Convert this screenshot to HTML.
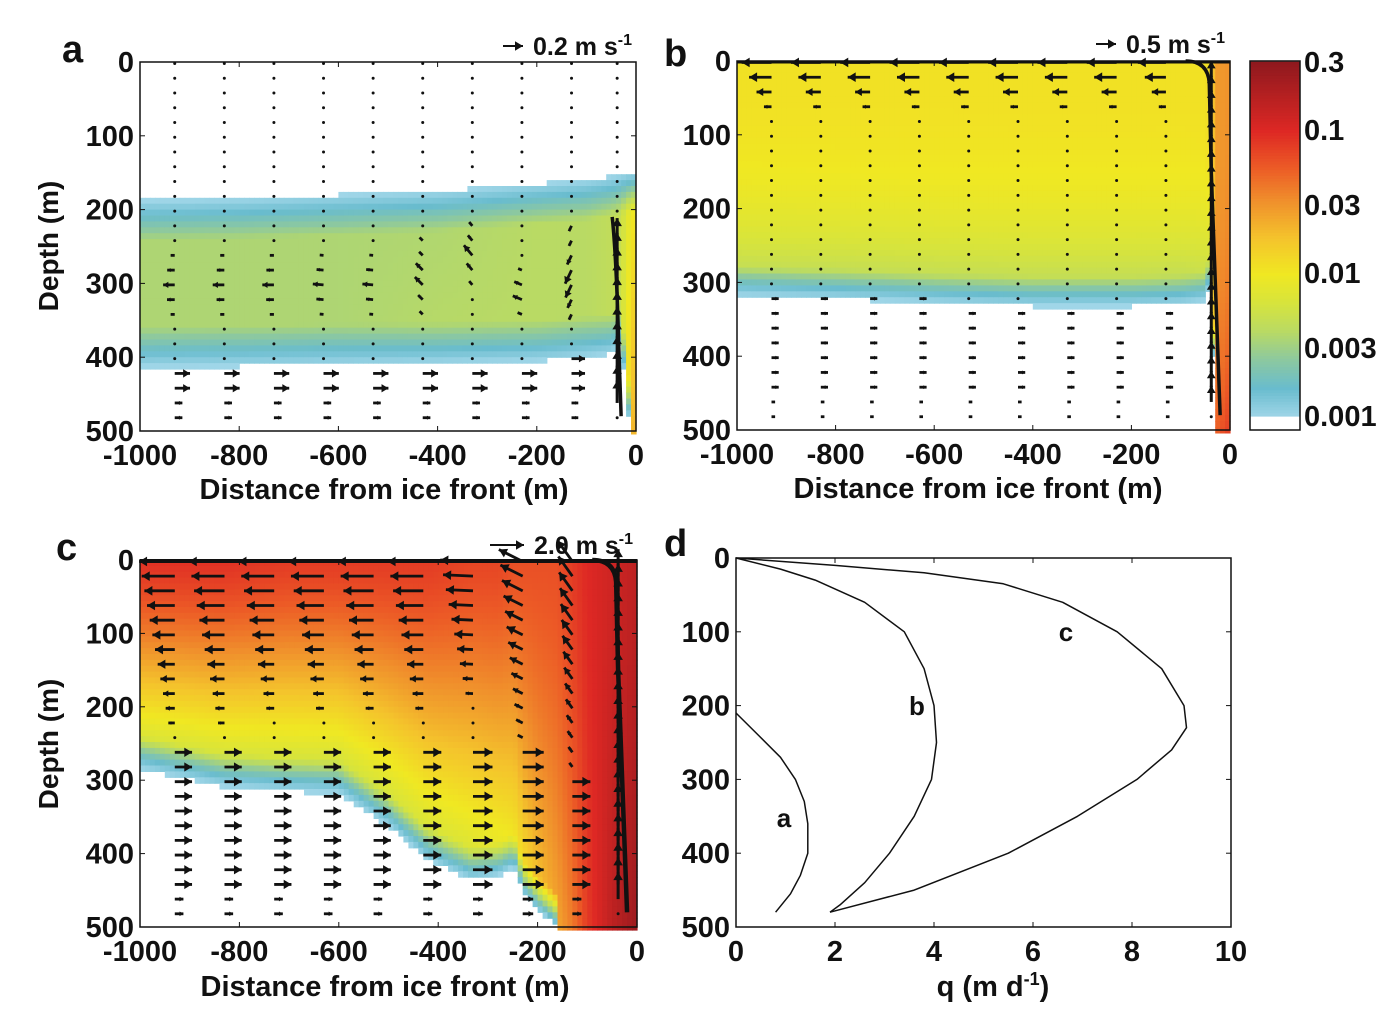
<!DOCTYPE html>
<html><head><meta charset="utf-8"><style>
body{margin:0;background:#fff;}
svg text{font-family:"Liberation Sans",Arial,sans-serif;font-weight:bold;fill:#111;}
</style></head><body>
<svg id="fig" width="1400" height="1021" viewBox="0 0 1400 1021" xmlns="http://www.w3.org/2000/svg">
<g id="layer"></g>
</svg>
<script>
// ---------- DATA ----------
// Panel a plume (x control points in m, depths in m, log10 concentration)
const aX    = [-1000,-800,-600,-400,-200,-100,-50,-30,-12,0];
const aTop  = [188,185,180,175,165,160,155,152,150,150];
const aBot  = [413,412,410,408,405,400,395,385,500,500];
const aVTop = [-2.45,-2.45,-2.45,-2.45,-2.4,-2.4,-2.35,-2.3,-2.1,-2.0];
const aVBot = [-2.45,-2.45,-2.45,-2.4,-2.4,-2.4,-2.35,-2.3,-1.8,-1.6];
// Panel b plume
const bX    = [-1000,-800,-600,-400,-200,-100,-50,-40,-30,0];
const bTop  = [0,0,0,0,0,0,0,0,0,0];
const bBot  = [318,322,328,332,332,330,325,300,500,500];
const bVTop = [-1.95,-1.95,-1.95,-1.95,-1.95,-1.95,-1.95,-1.9,-1.55,-1.5];
const bVBot = [-2.5,-2.5,-2.5,-2.5,-2.5,-2.5,-2.45,-2.35,-1.3,-1.1];
// Panel c plume
const cX    = [-1000,-830,-700,-600,-500,-420,-333,-280,-247,-230,-200,-160,-130,-100,-50,0];
const cTop  = [0,0,0,0,0,0,0,0,0,0,0,0,0,0,0,0];
const cBot  = [285,309,315,318,363,409,436,430,418,454,477,500,500,500,500,500];
const cVTop = [-1.05,-1.05,-1.1,-1.1,-1.1,-1.1,-1.15,-1.15,-1.2,-1.2,-1.2,-1.2,-1.1,-1.0,-0.9,-0.8];
const cVBot = [-2.45,-2.45,-2.45,-2.45,-2.4,-2.35,-2.3,-2.2,-2.1,-2.0,-1.8,-1.6,-1.4,-1.1,-0.8,-0.6];

// Quiver columns (m) and rows (m)
const qCols = [-930,-830,-730,-630,-530,-430,-330,-230,-130,-38];
const qRows = [2,22,42,62,82,102,122,142,162,182,202,222,242,262,282,302,322,342,362,382,402,422,442,462,482];
// Panel a velocities (m/s)
const aOutU   = [-0.13,-0.13,-0.13,-0.12,-0.12,-0.1,-0.1,-0.12,-0.08];
const aOutV   = [0,0,0,0.01,0.01,0.1,0.12,0.05,-0.17];
const aOutTop = [245,245,245,245,245,240,220,270,220];
const aOutBot = [360,360,360,360,360,350,310,360,360];
const aInU    = [0.17,0.17,0.17,0.17,0.17,0.17,0.17,0.17,0.15];
const aInTop  = [405,405,405,405,405,405,405,405,400];
const aWallV  = 0.25; const aWallTop = 210;
// Panel b
const bOutU   = [-0.85,-0.85,-0.85,-0.85,-0.85,-0.85,-0.85,-0.85,-0.8];
const bOutV   = [0,0,0,0,0,0,0,0,0];
const bOutTop = [0,0,0,0,0,0,0,0,0];
const bOutBot = [70,70,70,70,70,70,70,70,70];
const bInU    = [0.2,0.2,0.2,0.2,0.2,0.2,0.2,0.2,0.2];
const bInTop  = [322,322,322,322,330,330,330,330,330];
const bWallV  = 0.45; const bWallTop = 0;
// Panel c
const cOutU   = [-2.4,-2.4,-2.4,-2.4,-2.4,-2.4,-2.2,-1.6,-1.0];
const cOutV   = [0,0,0,0,0,0,0.1,0.8,1.4];
const cOutTop = [0,0,0,0,0,0,0,0,0];
const cOutBot = [230,230,220,220,220,220,200,260,300];
const cInU    = [1.15,1.15,1.15,1.15,1.15,1.2,1.3,1.4,1.2];
const cInTop  = [260,260,260,260,260,260,260,260,300];
const cWallV  = 1.8; const cWallTop = 0;

// Panel d melt profiles: depth (m) and q (m/d)
const dDepthA = [210,240,270,300,330,360,400,430,455,480];
const dQA     = [0,0.45,0.9,1.2,1.38,1.45,1.45,1.3,1.1,0.8];
const dDepthB = [0,15,30,60,100,150,200,250,300,350,400,440,470,480];
const dQB     = [0,0.9,1.6,2.6,3.4,3.8,4.0,4.05,3.95,3.6,3.1,2.6,2.1,1.9];
const dDepthC = [0,10,20,35,60,100,150,200,230,260,300,350,400,450,480];
const dQC     = [0,2.0,3.8,5.4,6.6,7.7,8.6,9.05,9.1,8.8,8.1,6.9,5.5,3.6,1.9];

const xTicks = [-1000,-800,-600,-400,-200,0];
const yTicks = [0,100,200,300,400,500];
const dXTicks = [0,2,4,6,8,10];
const cbTicks = [0.3,0.1,0.03,0.01,0.003,0.001];

// ---------- HELPERS ----------
const NS='http://www.w3.org/2000/svg';
const L=document.getElementById('layer');
function mk(tag,attrs,parent){const e=document.createElementNS(NS,tag);for(const k in attrs)e.setAttribute(k,attrs[k]);(parent||L).appendChild(e);return e;}
function interp(xs,ys,x){if(x<=xs[0])return ys[0];for(let i=1;i<xs.length;i++){if(x<=xs[i]){const t=(x-xs[i-1])/(xs[i]-xs[i-1]);return ys[i-1]+t*(ys[i]-ys[i-1]);}}return ys[ys.length-1];}
const cmapV=[-3,-2.8,-2.6,-2.4,-2.2,-2,-1.75,-1.5,-1.25,-1,-0.5];
const cmapC=[[160,214,232],[105,188,206],[140,200,160],[185,218,100],[215,228,60],[240,232,34],[244,196,44],[240,146,44],[236,90,38],[222,40,36],[140,24,30]];
function cmap(v){if(v<=cmapV[0])return 'rgb(160,214,232)';for(let i=1;i<cmapV.length;i++){if(v<=cmapV[i]){const t=(v-cmapV[i-1])/(cmapV[i]-cmapV[i-1]);const a=cmapC[i-1],b=cmapC[i];return 'rgb('+[0,1,2].map(k=>Math.round(a[k]+t*(b[k]-a[k]))).join(',')+')';}}const c=cmapC[cmapC.length-1];return 'rgb('+c.join(',')+')';}

function axes(P){
  P.sx=v=>P.x0+(v-P.xmin)/(P.xmax-P.xmin)*(P.x1-P.x0);
  P.sy=d=>P.y0+d/500*(P.y1-P.y0);
}
function heat(P,X,T,B,VT,VB,name,edge,pw){
  const g=mk('g',{});
  
  
  for(let x=-1000;x<0;x+=10){
    const xc=x+5;const top=interp(X,T,xc),bot=interp(X,B,xc),vt=interp(X,VT,xc),vb=interp(X,VB,xc);
    for(let d=0;d<500;d+=8){
      const dc=d+4;if(dc<top||dc>bot)continue;
      let t=(dc-top)/Math.max(1,bot-top);
      let v=vt+(vb-vt)*Math.pow(t,pw);
      let dist=1e9;if(bot<499)dist=bot-dc;if(top>5)dist=Math.min(dist,dc-top);
      if(dist<edge){v=-3+(v+3)*Math.max(0,dist)/edge;}
      mk('rect',{x:P.sx(x).toFixed(1),y:P.sy(d).toFixed(1),width:(P.sx(x+10)-P.sx(x)+0.6).toFixed(1),height:(P.sy(d+8)-P.sy(d)+0.6).toFixed(1),fill:cmap(v)},g);
    }
  }
}
function arrow(g,x,y,dx,dy,w){
  const len=Math.hypot(dx,dy);
  if(len<2.2){mk('circle',{cx:x,cy:y,r:1.5,fill:'#111'},g);return;}
  const x2=x+dx,y2=y+dy;mk('line',{x1:x,y1:y,x2:x2,y2:y2,stroke:'#111','stroke-width':w},g);
  const ux=dx/len,uy=dy/len,h=Math.min(8,len*0.45);
  mk('polygon',{points:`${x2},${y2} ${x2-ux*h-uy*h*0.6},${y2-uy*h+ux*h*0.6} ${x2-ux*h+uy*h*0.6},${y2-uy*h-ux*h*0.6}`,fill:'#111'},g);
}
function quiver(P,OU,OV,OT,OB,IU,IT,WV,WT,scale,name){
  const g=mk('g',{});
  
  
  for(let c=0;c<qCols.length;c++){
    const x=P.sx(qCols[c]);
    for(const d of qRows){
      let u=0,v=0;
      if(c===qCols.length-1){ if(d>=WT+15&&d<470){v=WV;} }
      else{
        if(d>=OT[c]&&d<=OB[c]){const t=(d-OT[c])/Math.max(1,OB[c]-OT[c]);const f=OT[c]>0?Math.max(0.35,1-Math.abs(2*t-1)):(1-0.85*t);u=OU[c]*f;v=OV[c]*f;}
        else if(d>=IT[c]){u=IU[c]*(d>460?0.5:1);}
      }
      arrow(g,x,P.sy(d),u*scale,-v*scale,c===qCols.length-1?3:2.8);
    }
  }
}
function frame(P,name,ticksX){
  const f=mk('rect',{x:P.x0,y:P.y0,width:P.x1-P.x0,height:P.y1-P.y0,fill:'none',stroke:'#111','stroke-width':1.5});
  
  
  for(const t of yTicks){const y=P.sy(t);
    mk('line',{x1:P.x0,y1:y,x2:P.x0+5,y2:y,stroke:'#111'});mk('line',{x1:P.x1,y1:y,x2:P.x1-5,y2:y,stroke:'#111'});
    const tx=mk('text',{x:P.x0-6,y:y+10,'text-anchor':'end','font-size':29});tx.textContent=t;
    
    }
  for(const t of ticksX){const x=P.sx(t);
    mk('line',{x1:x,y1:P.y1,x2:x,y2:P.y1-5,stroke:'#111'});mk('line',{x1:x,y1:P.y0,x2:x,y2:P.y0+5,stroke:'#111'});
    const tx=mk('text',{x:x,y:P.y1+34,'text-anchor':'middle','font-size':29});tx.textContent=t;
    
    }
}
function label(txt,x,y,size,nm,anchor,rot){
  const t=mk('text',{x:x,y:y,'font-size':size,'text-anchor':anchor||'start'});
  if(rot)t.setAttribute('transform',`rotate(-90 ${x} ${y})`);
  t.textContent=txt;
  
  
  return t;
}
function refArrow(x,y,len,txt,nm){
  const g=mk('g',{});
  
  
  arrow(g,x,y,len,0,2);
  const t=mk('text',{x:x+len+10,y:y+9,'font-size':25},g);
  t.innerHTML=txt+' m s<tspan dy="-10" font-size="16">-1</tspan>';
}

// ---------- PANELS ----------
const A={x0:140,x1:636,y0:62,y1:431,xmin:-1000,xmax:0};axes(A);
const Bp={x0:737,x1:1230,y0:61,y1:430,xmin:-1000,xmax:0};axes(Bp);
const C={x0:140,x1:637,y0:560,y1:927,xmin:-1000,xmax:0};axes(C);
const D={x0:736,x1:1231,y0:558,y1:927,xmin:0,xmax:10};axes(D);

heat(A,aX,aTop,aBot,aVTop,aVBot,'panel-a',55,1);
heat(Bp,bX,bTop,bBot,bVTop,bVBot,'panel-b',40,3);
heat(C,cX,cTop,cBot,cVTop,cVBot,'panel-c',45,1.3);
quiver(A,aOutU,aOutV,aOutTop,aOutBot,aInU,aInTop,aWallV,aWallTop,90,'panel-a');
quiver(Bp,bOutU,bOutV,bOutTop,bOutBot,bInU,bInTop,bWallV,bWallTop,36,'panel-b');
quiver(C,cOutU,cOutV,cOutTop,cOutBot,cInU,cInTop,cWallV,cWallTop,15,'panel-c');
// wall jet lines
function wallLine(P,w,nm){const p=mk('path',{d:`M${P.sx(-20)},${P.sy(480)} L${P.sx(-38)},${P.sy(150)} L${P.sx(-42)},${P.sy(30)} Q${P.sx(-45)},${P.sy(0)} ${P.sx(-90)},${P.sy(0)}`,fill:'none',stroke:'#111','stroke-width':w});}
wallLine(Bp,3.5,'panel-b-wall-jet');wallLine(C,4.5,'panel-c-wall-jet');
const aw=mk('path',{d:`M${A.sx(-30)},${A.sy(480)} L${A.sx(-35)},${A.sy(380)} Q${A.sx(-40)},${A.sy(260)} ${A.sx(-48)},${A.sy(210)}`,fill:'none',stroke:'#111','stroke-width':3.5});


mk('line',{x1:Bp.x0,y1:Bp.y0+1,x2:Bp.x1,y2:Bp.y0+1,stroke:'#111','stroke-width':3});
mk('line',{x1:C.x0,y1:C.y0+1,x2:C.x1,y2:C.y0+1,stroke:'#111','stroke-width':4});

frame(A,'panel-a',xTicks);frame(Bp,'panel-b',xTicks);frame(C,'panel-c',xTicks);

// Panel d
frame(D,'panel-d',dXTicks);
function curve(Ds,Qs,nm){let s='';for(let i=0;i<Ds.length;i++)s+=(i?' L':'M')+D.sx(Qs[i]).toFixed(1)+','+D.sy(Ds[i]).toFixed(1);
  const p=mk('path',{d:s,fill:'none',stroke:'#111','stroke-width':1.5,'stroke-linejoin':'round'});}
curve(dDepthA,dQA,'melt-curve-a');curve(dDepthB,dQB,'melt-curve-b');curve(dDepthC,dQC,'melt-curve-c');
label('a',784,827,26,'curve-label-a','middle');label('b',917,715,26,'curve-label-b','middle');label('c',1066,641,26,'curve-label-c','middle');

// colorbar
const cbg=mk('g',{});


const cbY=v=>62+(Math.log10(0.3)-v)/(Math.log10(0.3)+3)*(416-62);
for(let v=-0.52;v>-3;v-=0.02){mk('rect',{x:1250,y:cbY(v).toFixed(1),width:50,height:(cbY(v-0.02)-cbY(v)+0.6).toFixed(1),fill:cmap(v)},cbg);}
mk('rect',{x:1250,y:61,width:50,height:369,fill:'none',stroke:'#111','stroke-width':1.5},cbg);
for(const t of cbTicks){const y=cbY(Math.log10(t));const tx=mk('text',{x:1304,y:y+10,'font-size':29},cbg);tx.textContent=t;}

// labels
label('a',62,62,38,'panel-a-letter');label('b',664,66,38,'panel-b-letter');label('c',56,560,38,'panel-c-letter');label('d',664,556,38,'panel-d-letter');
label('Depth (m)',58,246,28,'panel-a-y-axis-title','middle',true);
label('Depth (m)',58,744,28,'panel-c-y-axis-title','middle',true);
label('Distance from ice front (m)',384,499,29,'panel-a-x-axis-title','middle');
label('Distance from ice front (m)',978,498,29,'panel-b-x-axis-title','middle');
label('Distance from ice front (m)',385,996,29,'panel-c-x-axis-title','middle');
const qt=label('',993,996,29,'panel-d-x-axis-title','middle');qt.innerHTML='q (m d<tspan dy="-11" font-size="18">-1</tspan><tspan dy="11">)</tspan>';
refArrow(503,46,20,'0.2','panel-a-scale-arrow');
refArrow(1096,44,20,'0.5','panel-b-scale-arrow');
refArrow(490,545,34,'2.0','panel-c-scale-arrow');
</script>
</body></html>
